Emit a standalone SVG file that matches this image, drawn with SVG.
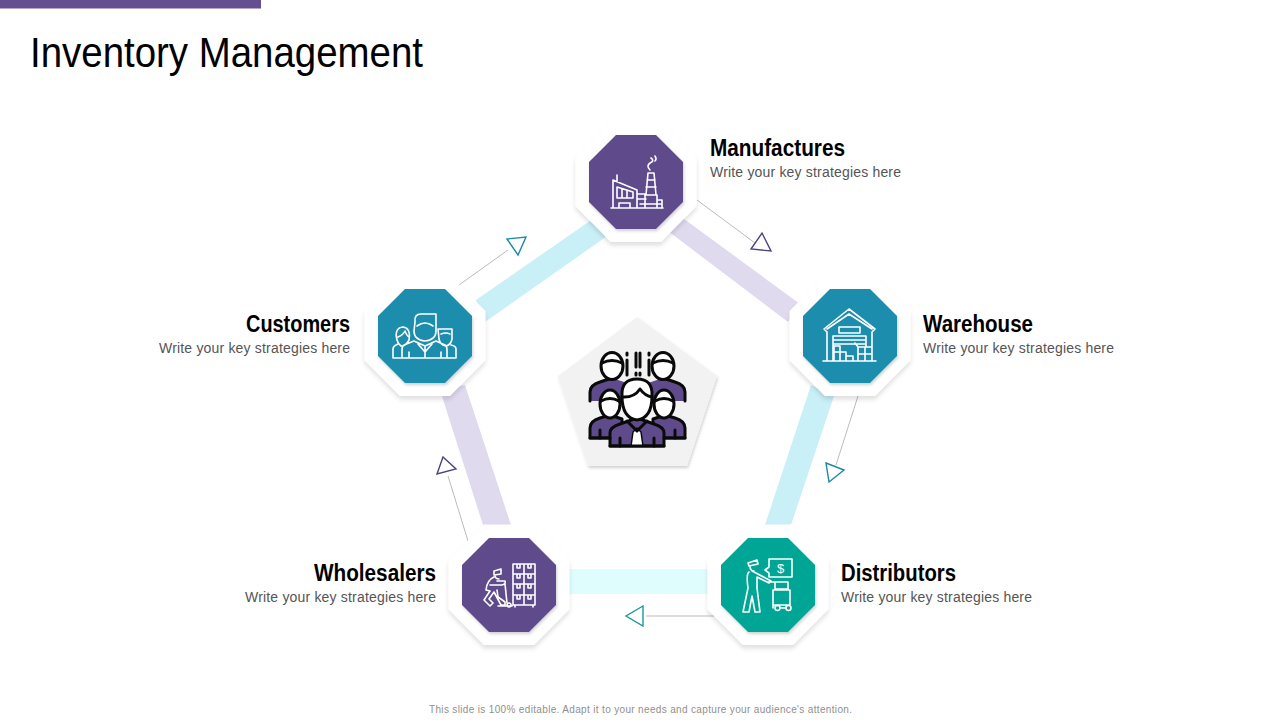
<svg xmlns="http://www.w3.org/2000/svg" width="1280" height="720" viewBox="0 0 1280 720">
<style>
text{font-family:"Liberation Sans",Arial,sans-serif}
.title{font-size:43px;fill:#000}
.h{font-size:23.500px;font-weight:700;fill:#000}
.s{font-size:14px;fill:#555}
.foot{font-size:10px;fill:#8f8f8f}
.ic{fill:none;stroke:#fff;stroke-width:1.600;stroke-linejoin:round;stroke-linecap:round}
.lk{fill:none;stroke:#a9a9a9;stroke-width:.8}
.tri{fill:#fff;stroke-width:1.400}
.blk{stroke:#0a0a0a;stroke-width:3;stroke-linejoin:round;stroke-linecap:round}
</style>
<defs>
<filter id="sh" x="-20%" y="-20%" width="140%" height="140%"><feDropShadow dx="0" dy="3.500" stdDeviation="2" flood-color="#000" flood-opacity=".12"/></filter>
<filter id="sh2" x="-20%" y="-20%" width="140%" height="140%"><feDropShadow dx="1" dy="2" stdDeviation="1.500" flood-color="#000" flood-opacity=".18"/></filter>
<polygon id="outer" points="-25,-60.500 25,-60.500 60.500,-25 60.500,24 25,60 -25,60 -60.500,24 -60.500,-25"/>
<polygon id="inner" points="-20,-47 20,-47 47,-20 47,20 20,47 -20,47 -47,20 -47,-20"/>
</defs>
<rect id="top-bar" x="0" y="0" width="261" height="8.500" fill="#654f91"/>
<text class="title" x="30" y="67" textLength="393" lengthAdjust="spacingAndGlyphs">Inventory Management</text>

<g id="connectors">
<polygon points="476,300 600,214 610,234 485,322" fill="#c9eff7"/>
<polygon points="680,216 800,304 788,322 668,231" fill="#dfdaee"/>
<polygon points="811,385 834,396 791,525 765,525" fill="#c9eff7"/>
<polygon points="440,390 465,385 511,525 483,525" fill="#dfdaee"/>
<rect x="565" y="569" width="145" height="25" fill="#dffdfd"/>
<path class="lk" d="M697 200L755 243M858 396L836 465M714 616H646M468 541L448 476M459 285L508 250"/>
<polygon class="tri" stroke="#4f4280" points="762,233 771,251 751,249"/>
<polygon class="tri" stroke="#1b8aa5" points="826,463 844,470 829,482"/>
<polygon class="tri" stroke="#1a9a96" points="643,606 626,616 643,626"/>
<polygon class="tri" stroke="#4f4280" points="443,457 456,469 437,474"/>
<polygon class="tri" stroke="#1b8aa5" points="507,239 526,237 518,255"/>
</g>

<g id="center">
<polygon points="637,317 717,376 687,466 588,466 558,376" fill="#f2f2f2" filter="url(#sh2)"/>
<path fill="#5f4b8b" d="M590 401V392Q590 385 600 382L612 378L630 384V401ZM685 401V392Q685 385 675 382L663 378L645 384V401Z"/>
<path class="blk" fill="none" d="M590 401V392Q590 385 600 382L612 378M685 401V392Q685 385 675 382L663 378"/>
<ellipse class="blk" cx="612" cy="366" rx="11" ry="13.500" fill="#fff"/>
<ellipse class="blk" cx="663" cy="366" rx="11" ry="13.500" fill="#fff"/>
<path class="blk" fill="none" d="M602 363Q612 358 622 363M653 363Q663 358 673 363M627 353V355M627 360V375M636 353V367M636 373V375M640 353V367M640 373V375M649 353V355M649 360V375"/>
<path class="blk" fill="#5f4b8b" d="M590 438V428Q590 421 600 418L610 415L622 419V438ZM685 438V428Q685 421 675 418L665 415L653 419V438Z"/>
<path class="blk" fill="none" d="M600 430V438M675 430V438"/>
<ellipse class="blk" cx="610" cy="404" rx="10" ry="14" fill="#fff"/>
<ellipse class="blk" cx="664" cy="404" rx="10" ry="14" fill="#fff"/>
<path class="blk" fill="none" d="M601 401Q610 396 619 401M655 401Q664 396 673 401"/>
<path class="blk" fill="#5f4b8b" d="M610 446V433Q610 427 620 424L637 418L654 424Q664 427 664 433V446Z"/>
<path class="blk" fill="none" d="M620 438V446M654 438V446"/>
<path fill="#fff" stroke="#0a0a0a" stroke-width="1.500" d="M633 432L637 428L641 432L643 446H631Z"/>
<path class="blk" fill="#fff" d="M622 396Q621 379 637 379Q653 379 652 396Q652 418 637 420Q622 418 622 396Z"/>
<path class="blk" fill="none" d="M622 397Q634 398 640 389Q645 396 652 397"/>
<path class="blk" fill="none" d="M627 421L637 431L647 421M590 438H610M664 438H685M610 446H664"/>
</g>

<g id="manufactures">
<use href="#outer" x="636" y="182" fill="#fff" filter="url(#sh)"/>
<use href="#inner" x="636" y="182" fill="#5f4b8b" filter="url(#sh2)"/>
<path class="ic" d="M611 208H663M613 208V180L637 190V208M617 182V175M617 187L633 192V198H617ZM622 189V198M627 190V198M619 208V203H630V208M637 194H646M637 199H646M648 173H654L656 195H646ZM647 180H655M646 187H656M645 195H657V208M645 195V208M657 200H662V208M640 204H662M650 170Q646 166 650 163Q655 161 651 158M655 161Q657 159 655 156"/>
<text class="h" x="710" y="156" textLength="135" lengthAdjust="spacingAndGlyphs">Manufactures</text>
<text class="s" x="710" y="177" textLength="191" lengthAdjust="spacing">Write your key strategies here</text>
</g>

<g id="warehouse">
<use href="#outer" x="850" y="336" fill="#fff" filter="url(#sh)"/>
<use href="#inner" x="850" y="336" fill="#1c8dac" filter="url(#sh2)"/>
<path class="ic" d="M823 361H876M827 361V332L824 329L849 309L875 329L872 332V361M827 329L849 314L872 329M839 327H860V333H839ZM833 361V336H866V347M833 340H866M833 344H866M834 361V346H840V352H846V356H853V361M834 352H846M840 352V361M846 356V361M858 361V347H872M858 354H872M865 347V361M855 343L858 347"/>
<text class="h" x="923" y="332" textLength="110" lengthAdjust="spacingAndGlyphs">Warehouse</text>
<text class="s" x="923" y="353" textLength="191" lengthAdjust="spacing">Write your key strategies here</text>
</g>

<g id="distributors">
<use href="#outer" x="768" y="585" fill="#fff" filter="url(#sh)"/>
<use href="#inner" x="768" y="585" fill="#06a695" filter="url(#sh2)"/>
<path class="ic" d="M769 559H792V577H769V573L765 570L769 567ZM748 563L757 560L758 564L749 566ZM750 566Q750 571 754 571M749 572Q746 574 748 588L743 612H749L752 596L755 612H760L757 588V577L769 583L771 581L756 573L752 571M775 582H788V589H775ZM773 590H790V605H773ZM768 582H775M773 590V608M775 608a2.500 2.500 0 1 0 5 0a2.500 2.500 0 1 0 -5 0M786 608a2.500 2.500 0 1 0 5 0a2.500 2.500 0 1 0 -5 0M780 608H786"/>
<text x="780.500" y="573" text-anchor="middle" font-size="13" fill="#fff">$</text>
<text class="h" x="841" y="581" textLength="115" lengthAdjust="spacingAndGlyphs">Distributors</text>
<text class="s" x="841" y="602" textLength="191" lengthAdjust="spacing">Write your key strategies here</text>
</g>

<g id="wholesalers">
<use href="#outer" x="509" y="585" fill="#fff" filter="url(#sh)"/>
<use href="#inner" x="509" y="585" fill="#5f4b8b" filter="url(#sh2)"/>
<path class="ic" d="M513 564H535V605H513ZM524 564V605M513 574H535M513 584H535M513 595H535M517 564V568H520V564M528 564V568H531V564M517 574V578H520V574M528 574V578H531V574M517 584V588H520V584M528 584V588H531V584M517 595V599H520V595M528 595V599H531V595M515 605V607M533 605V607M494 571L501 569L501 574L494 575ZM495 575Q495 579 499 579M494 577Q487 580 486 590L490 591L484 600L490 606L493 603L489 599L494 592L501 605H505V602L498 597L497 590M490 585L502 585Q506 584 505 581H497M505 584L507 603M498 606H512M509 603a2 2 0 1 0 .1 0"/>
<text class="h" x="314" y="581" textLength="122" lengthAdjust="spacingAndGlyphs">Wholesalers</text>
<text class="s" x="245" y="602" textLength="191" lengthAdjust="spacing">Write your key strategies here</text>
</g>

<g id="customers">
<use href="#outer" x="425" y="336" fill="#fff" filter="url(#sh)"/>
<use href="#inner" x="425" y="336" fill="#1c8dac" filter="url(#sh2)"/>
<path class="ic" d="M415 322Q414 314 421 314H436V331Q436 340 425 341Q414 340 414 331ZM417 326Q425 320 433 326M414 341L425 346L436 341L445 345Q447 346 447 350V358M425 346V358M414 341L404 345Q402 346 402 350V358M409 352V358M441 352V358M418 344L425 352L432 344M393 358V349Q393 346 398 344M397 340Q394 328 403 327Q411 328 409 340Q405 347 401 346Q398 344 397 340ZM398 337Q403 335 405 331Q407 336 409 337M439 339L438 329H452V339Q451 345 446 346Q440 345 439 339ZM441 334Q446 332 450 334M456 358V349Q456 346 451 345M393 358H456"/>
<text class="h" x="246" y="332" textLength="104" lengthAdjust="spacingAndGlyphs">Customers</text>
<text class="s" x="159" y="353" textLength="191" lengthAdjust="spacing">Write your key strategies here</text>
</g>

<text class="foot" x="429" y="712.500" textLength="423" lengthAdjust="spacing">This slide is 100% editable. Adapt it to your needs and capture your audience's attention.</text>
</svg>
